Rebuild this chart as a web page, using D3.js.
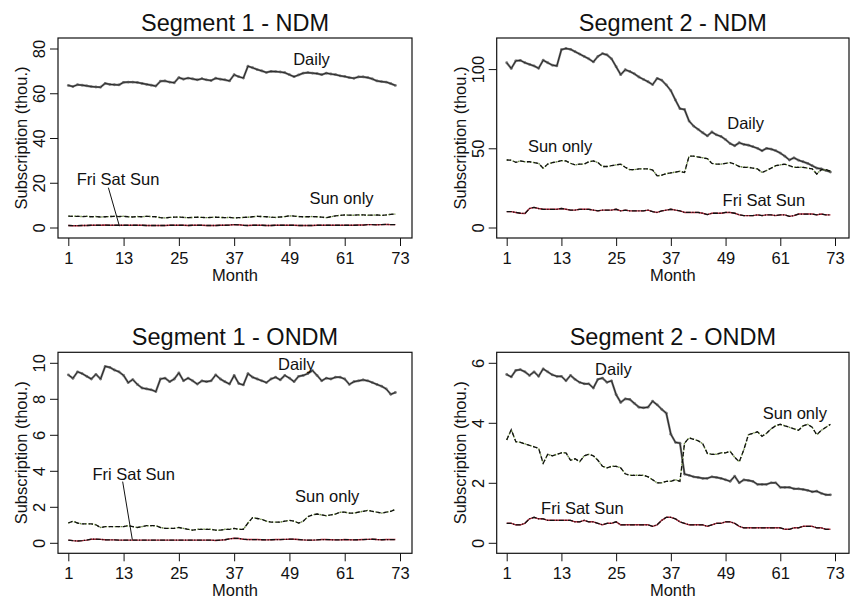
<!DOCTYPE html>
<html>
<head>
<meta charset="utf-8">
<script src="https://cdn.jsdelivr.net/npm/d3@7"></script>
<style>
  body { margin: 0; background: #fff; }
  svg { display: block; font-family: "Liberation Sans", Arial, sans-serif; }
  .tick text { fill: #111; }
</style>
</head>
<body>
<div id="chart"></div>
<script>
// ---- data (thousands of subscriptions, months 1..72) ----
const xTicks = [1, 13, 25, 37, 49, 61, 73];
const seriesNames = ["Daily", "Sun only", "Fri Sat Sun"];

const s1ndmDaily = [
  63.5, 63.0, 63.8, 63.6, 63.3, 63.0, 62.8, 62.7, 64.4, 64.0, 63.8, 63.7,
  64.9, 65.0, 65.0, 64.8, 64.4, 64.0, 63.6, 63.2, 65.4, 65.5, 65.0, 64.7,
  67.0, 66.3, 66.8, 66.4, 66.0, 66.5, 66.0, 65.7, 66.7, 66.3, 66.0, 65.5,
  68.3, 67.4, 66.8, 72.1, 71.4, 70.6, 70.0, 69.3, 69.8, 69.7, 69.5, 69.2,
  68.3, 67.4, 68.2, 69.0, 69.2, 69.0, 68.8, 68.3, 69.0, 68.6, 68.3, 67.8,
  67.5, 67.0, 66.7, 67.3, 67.3, 67.0, 66.4, 65.5, 65.2, 65.0, 64.3, 63.5
];
const s1ndmSun = [
  5.1, 5.0, 5.0, 4.9, 5.0, 4.8, 4.9, 4.7, 4.8, 4.9, 5.0, 4.9,
  5.0, 4.8, 4.7, 4.9, 4.8, 5.0, 4.9, 4.8, 4.4, 4.3, 4.5, 4.6,
  4.7, 4.5, 4.4, 4.5, 4.6, 4.5, 4.4, 4.5, 4.6, 4.5, 4.4, 4.5,
  4.3, 4.4, 4.5, 4.6, 4.8, 5.0, 4.9, 4.8, 4.6, 4.5, 4.7, 4.9,
  5.2, 5.1, 4.9, 4.8, 4.8, 4.9, 4.8, 4.6, 4.4, 4.8, 5.2, 5.4,
  5.6, 5.5, 5.5, 5.6, 5.6, 5.5, 5.5, 5.6, 5.4, 5.6, 5.9, 6.0
];
const s1ndmFss = [
  0.9, 0.8, 0.8, 0.9, 0.9, 1.0, 1.0, 1.0, 1.1, 1.0, 1.0, 1.0,
  1.0, 1.0, 1.0, 1.0, 1.0, 0.9, 0.9, 0.9, 0.9, 0.9, 1.0, 1.0,
  1.0, 1.0, 0.9, 1.0, 1.0, 1.0, 0.9, 0.9, 0.9, 1.0, 1.0, 1.1,
  1.3, 1.2, 1.0, 0.9, 1.0, 1.0, 1.0, 0.9, 0.9, 1.0, 1.0, 1.0,
  1.0, 1.0, 0.9, 0.9, 0.9, 0.9, 1.0, 1.0, 1.0, 1.0, 1.0, 1.0,
  1.0, 1.0, 1.0, 1.1, 1.1, 1.3, 1.3, 1.2, 1.3, 1.4, 1.3, 1.3
];

const s2ndmDaily = [
  104.0, 100.4, 105.2, 105.5, 104.0, 103.0, 102.0, 100.5, 105.6, 104.0, 102.5, 102.0,
  112.3, 113.0, 112.5, 111.0, 109.5, 108.0, 106.5, 104.5, 108.0, 109.8, 109.0, 106.5,
  101.5, 96.5, 99.6, 98.5, 97.0, 95.0, 93.5, 92.0, 90.2, 94.2, 93.0, 90.0,
  86.4, 80.5, 75.0, 74.5, 67.2, 64.0, 62.0, 59.8, 57.8, 60.3, 58.5, 57.5,
  55.5, 53.0, 51.6, 53.5, 52.5, 52.0, 51.0, 50.0, 48.4, 50.0, 49.5, 48.5,
  47.0, 45.0, 42.6, 44.0, 42.5, 41.5, 40.5, 39.0, 37.5, 37.0, 36.0, 35.0
];
const s2ndmSun = [
  42.6, 42.5, 41.1, 42.0, 41.5, 41.5, 41.0, 40.5, 37.4, 40.0, 41.0, 41.5,
  42.2, 42.0, 40.5, 39.5, 40.0, 40.0, 41.5, 42.0, 41.0, 38.5, 38.5, 39.0,
  39.5, 40.0, 38.0, 36.5, 36.5, 37.0, 37.0, 37.0, 36.3, 32.6, 33.0, 34.0,
  34.5, 35.0, 35.5, 34.7, 45.1, 45.0, 44.5, 44.0, 43.5, 40.5, 40.0, 40.0,
  40.5, 41.0, 40.0, 38.5, 38.0, 38.0, 37.5, 37.0, 34.7, 36.0, 37.5, 39.0,
  39.5, 40.0, 39.0, 38.0, 38.0, 38.0, 37.5, 37.0, 33.8, 36.5, 36.5, 35.5
];
const s2ndmFss = [
  10.0, 10.0, 9.5, 9.0, 8.8, 12.0, 12.7, 12.0, 11.5, 11.5, 11.5, 11.5,
  12.0, 11.5, 11.0, 11.0, 11.5, 11.5, 11.5, 11.0, 10.5, 11.0, 11.0, 11.0,
  11.5, 10.5, 11.0, 10.5, 10.5, 10.5, 10.5, 11.0, 10.0, 9.5, 10.5, 11.0,
  11.5, 11.0, 10.5, 9.5, 9.5, 9.5, 9.5, 9.0, 8.1, 9.0, 9.0, 9.0,
  9.5, 9.5, 9.0, 8.0, 7.5, 7.5, 7.5, 8.0, 7.5, 8.0, 8.0, 7.5,
  8.0, 8.0, 7.0, 7.5, 8.5, 8.5, 8.5, 8.5, 8.0, 8.5, 8.0, 8.0
];

const s1ondmDaily = [
  9.33, 9.14, 9.50, 9.40, 9.25, 9.10, 9.36, 9.10, 9.80, 9.75, 9.60, 9.50,
  9.30, 8.90, 9.07, 8.80, 8.60, 8.55, 8.50, 8.40, 9.10, 9.15, 8.95, 9.10,
  9.44, 9.00, 9.15, 9.00, 8.82, 9.00, 8.95, 9.00, 9.33, 9.10, 8.95, 8.82,
  9.30, 8.85, 8.77, 9.40, 9.20, 9.10, 9.00, 8.90, 9.10, 9.20, 9.05, 9.30,
  9.15, 8.95, 9.25, 9.30, 9.40, 9.57, 9.30, 9.00, 9.15, 9.10, 9.20, 9.20,
  9.10, 8.80, 8.95, 9.00, 9.05, 9.00, 8.90, 8.80, 8.70, 8.55, 8.25, 8.35
];
const s1ondmSun = [
  1.10, 1.20, 1.10, 1.05, 1.05, 1.05, 1.00, 0.85, 0.90, 0.90, 0.90, 0.90,
  0.90, 0.95, 0.90, 0.85, 0.90, 0.95, 0.95, 0.95, 0.85, 0.80, 0.80, 0.80,
  0.85, 0.80, 0.75, 0.70, 0.75, 0.75, 0.75, 0.75, 0.70, 0.70, 0.75, 0.75,
  0.80, 0.75, 0.75, 1.10, 1.40, 1.35, 1.30, 1.20, 1.15, 1.15, 1.15, 1.20,
  1.25, 1.20, 1.10, 1.20, 1.45, 1.55, 1.60, 1.55, 1.50, 1.55, 1.60, 1.70,
  1.70, 1.65, 1.65, 1.70, 1.75, 1.80, 1.75, 1.70, 1.65, 1.70, 1.75, 1.85
];
const s1ondmFss = [
  0.15, 0.12, 0.10, 0.12, 0.15, 0.20, 0.20, 0.19, 0.17, 0.16, 0.16, 0.15,
  0.15, 0.15, 0.15, 0.15, 0.15, 0.15, 0.15, 0.15, 0.15, 0.15, 0.15, 0.15,
  0.15, 0.15, 0.15, 0.15, 0.15, 0.15, 0.15, 0.15, 0.13, 0.15, 0.17, 0.22,
  0.25, 0.24, 0.20, 0.18, 0.18, 0.18, 0.17, 0.16, 0.17, 0.18, 0.18, 0.19,
  0.20, 0.20, 0.18, 0.16, 0.15, 0.15, 0.16, 0.18, 0.18, 0.17, 0.16, 0.16,
  0.18, 0.17, 0.16, 0.17, 0.18, 0.19, 0.20, 0.18, 0.17, 0.18, 0.18, 0.18
];

const s2ondmDaily = [
  5.61, 5.53, 5.75, 5.77, 5.70, 5.58, 5.70, 5.55, 5.80, 5.70, 5.60, 5.55,
  5.55, 5.40, 5.58, 5.45, 5.35, 5.30, 5.30, 5.16, 5.45, 5.49, 5.35, 5.40,
  4.94, 4.68, 4.80, 4.78, 4.65, 4.52, 4.50, 4.52, 4.72, 4.60, 4.45, 4.32,
  3.62, 3.35, 3.32, 2.29, 2.25, 2.20, 2.18, 2.15, 2.15, 2.20, 2.18, 2.15,
  2.10, 2.05, 2.22, 2.00, 2.10, 2.08, 2.05, 1.95, 1.95, 1.95, 2.00, 2.00,
  1.85, 1.85, 1.85, 1.80, 1.80, 1.78, 1.75, 1.70, 1.72, 1.65, 1.60, 1.60
];
const s2ondmSun = [
  3.43, 3.77, 3.37, 3.35, 3.30, 3.25, 3.20, 3.15, 2.65, 2.95, 2.90, 2.95,
  3.00, 3.00, 2.75, 2.80, 2.70, 2.90, 2.95, 2.90, 2.75, 2.55, 2.50, 2.55,
  2.55, 2.50, 2.30, 2.25, 2.25, 2.25, 2.25, 2.20, 2.10, 2.00, 2.00, 2.05,
  2.05, 2.10, 2.05, 3.32, 3.50, 3.45, 3.40, 3.30, 2.98, 2.95, 2.95, 3.00,
  3.00, 3.05, 2.85, 2.70, 3.10, 3.60, 3.65, 3.70, 3.55, 3.65, 3.80, 3.90,
  3.95, 3.90, 3.85, 3.80, 3.75, 3.90, 3.95, 3.85, 3.60, 3.75, 3.85, 3.95
];
const s2ondmFss = [
  0.65, 0.65, 0.60, 0.60, 0.65, 0.80, 0.85, 0.80, 0.80, 0.75, 0.75, 0.75,
  0.75, 0.75, 0.75, 0.70, 0.70, 0.75, 0.70, 0.70, 0.65, 0.60, 0.65, 0.65,
  0.70, 0.60, 0.60, 0.60, 0.60, 0.60, 0.60, 0.60, 0.55, 0.60, 0.75, 0.85,
  0.85, 0.80, 0.70, 0.65, 0.60, 0.60, 0.60, 0.60, 0.55, 0.60, 0.65, 0.65,
  0.70, 0.70, 0.65, 0.55, 0.50, 0.50, 0.50, 0.50, 0.50, 0.50, 0.50, 0.50,
  0.50, 0.45, 0.45, 0.50, 0.50, 0.55, 0.55, 0.55, 0.50, 0.50, 0.45, 0.45
];

// ---- panel layout + annotations (month, value in data units) ----
const panels = [
  { title: "Segment 1 - NDM", series: [s1ndmDaily, s1ndmSun, s1ndmFss], yTicks: [0, 20, 40, 60, 80],
    frame: { left: 58, top: 38, right: 412, bottom: 238 }, xr: [68.3, 400],
    labels: [["Daily", 53.8, 72.5], ["Sun only", 60.3, 10.3], ["Fri Sat Sun", 11.8, 19.2]],
    leader: [[9.7, 17.8], [12.1, 0.6]] },
  { title: "Segment 2 - NDM", series: [s2ndmDaily, s2ndmSun, s2ndmFss], yTicks: [0, 50, 100],
    frame: { left: 496.7, top: 38, right: 849, bottom: 238 }, xr: [506.7, 835],
    labels: [["Daily", 53.4, 62.4], ["Sun only", 12.7, 47.8], ["Fri Sat Sun", 57.4, 13.3]],
    leader: null },
  { title: "Segment 1 - ONDM", series: [s1ondmDaily, s1ondmSun, s1ondmFss], yTicks: [0, 2, 4, 6, 8, 10],
    frame: { left: 58, top: 352.3, right: 412, bottom: 553.3 }, xr: [68.3, 400],
    labels: [["Daily", 50.5, 9.62], ["Sun only", 57.2, 2.24], ["Fri Sat Sun", 15.2, 3.49]],
    leader: [[12.8, 3.4], [14.9, 0.17]] },
  { title: "Segment 2 - ONDM", series: [s2ondmDaily, s2ondmSun, s2ondmFss], yTicks: [0, 2, 4, 6],
    frame: { left: 496.7, top: 352.3, right: 849, bottom: 553.3 }, xr: [506.7, 835],
    labels: [["Daily", 24.4, 5.61], ["Sun only", 64.2, 4.13], ["Fri Sat Sun", 17.6, 0.97]],
    leader: null }
];

const width = 850, height = 603;
const svg = d3.select("#chart").append("svg")
  .attr("width", width)
  .attr("height", height);

// underlay colour + black pattern on top, like the original
const styles = [
  { under: "#777", underW: 2.2, underDash: null, top: null, markers: true },
  { under: "#6b8e3a", underW: 1.4, underDash: "1.5,1.5", top: "4.5,2.5", markers: false },
  { under: "#b0283a", underW: 1.4, underDash: null, top: "5,1.5,1.2,1.5", markers: false }
];

panels.forEach(p => {
  const f = p.frame;
  const g = svg.append("g");

  const x = d3.scaleLinear().domain([1, 73]).range(p.xr);
  const yMax = Math.max(d3.max(p.yTicks), d3.max(p.series.flat()));
  const y = d3.scaleLinear().domain([0, yMax]).range([f.bottom - 10.5, f.top + 10.5]);

  // axes
  const xAxis = g.append("g")
    .attr("transform", `translate(0,${f.bottom})`)
    .call(d3.axisBottom(x).tickValues(xTicks).tickSize(8).tickFormat(d3.format("d")));
  xAxis.select(".domain").remove();
  xAxis.selectAll("text")
    .attr("y", 14)
    .style("font-size", "16.5px");

  const yAxis = g.append("g")
    .attr("transform", `translate(${f.left},0)`)
    .call(d3.axisLeft(y).tickValues(p.yTicks).tickSize(8).tickFormat(d3.format("d")));
  yAxis.select(".domain").remove();
  yAxis.selectAll("text")
    .attr("x", 0)
    .attr("y", -13)
    .attr("dy", 0)
    .attr("transform", "rotate(-90)")
    .attr("text-anchor", "middle")
    .style("font-size", "16.5px");
  g.selectAll(".tick line").attr("stroke", "#111").attr("stroke-width", 1);

  // frame
  g.append("rect")
    .attr("x", f.left).attr("y", f.top)
    .attr("width", f.right - f.left).attr("height", f.bottom - f.top)
    .attr("fill", "none").attr("stroke", "#111").attr("stroke-width", 1.2);

  // titles
  g.append("text")
    .attr("x", (f.left + f.right) / 2).attr("y", f.top - 7.5)
    .attr("text-anchor", "middle")
    .style("font-size", "23.5px").attr("fill", "#111")
    .text(p.title);
  g.append("text")
    .attr("x", (f.left + f.right) / 2).attr("y", f.bottom + 43)
    .attr("text-anchor", "middle")
    .style("font-size", "16.5px").attr("fill", "#111")
    .text("Month");
  g.append("text")
    .attr("transform", `translate(${f.left - 31},${(f.top + f.bottom) / 2}) rotate(-90)`)
    .attr("text-anchor", "middle")
    .style("font-size", "16.5px").attr("fill", "#111")
    .text("Subscription (thou.)");

  // lines
  const line = d3.line().x((d, i) => x(i + 1)).y(d => y(d));
  p.series.forEach((vals, si) => {
    const st = styles[si];
    g.append("path")
      .attr("d", line(vals))
      .attr("fill", "none")
      .attr("stroke", st.under)
      .attr("stroke-width", st.underW)
      .attr("stroke-dasharray", st.underDash)
      .attr("stroke-linejoin", "round");
    if (st.markers) {
      g.selectAll(null).data(vals).enter().append("circle")
        .attr("cx", (d, i) => x(i + 1)).attr("cy", d => y(d))
        .attr("r", 1.4).attr("fill", st.under);
    }
    g.append("path")
      .attr("d", line(vals))
      .attr("fill", "none")
      .attr("stroke", "#111")
      .attr("stroke-width", si === 0 ? 0.8 : 1.3)
      .attr("stroke-dasharray", st.top);
  });

  // annotations
  p.labels.forEach(l => {
    g.append("text")
      .attr("x", x(l[1])).attr("y", y(l[2]))
      .attr("text-anchor", "middle")
      .style("font-size", "16.5px").attr("fill", "#111")
      .text(l[0]);
  });
  if (p.leader) {
    g.append("line")
      .attr("x1", x(p.leader[0][0])).attr("y1", y(p.leader[0][1]))
      .attr("x2", x(p.leader[1][0])).attr("y2", y(p.leader[1][1]))
      .attr("stroke", "#111").attr("stroke-width", 1);
  }
});
</script>
</body>
</html>
